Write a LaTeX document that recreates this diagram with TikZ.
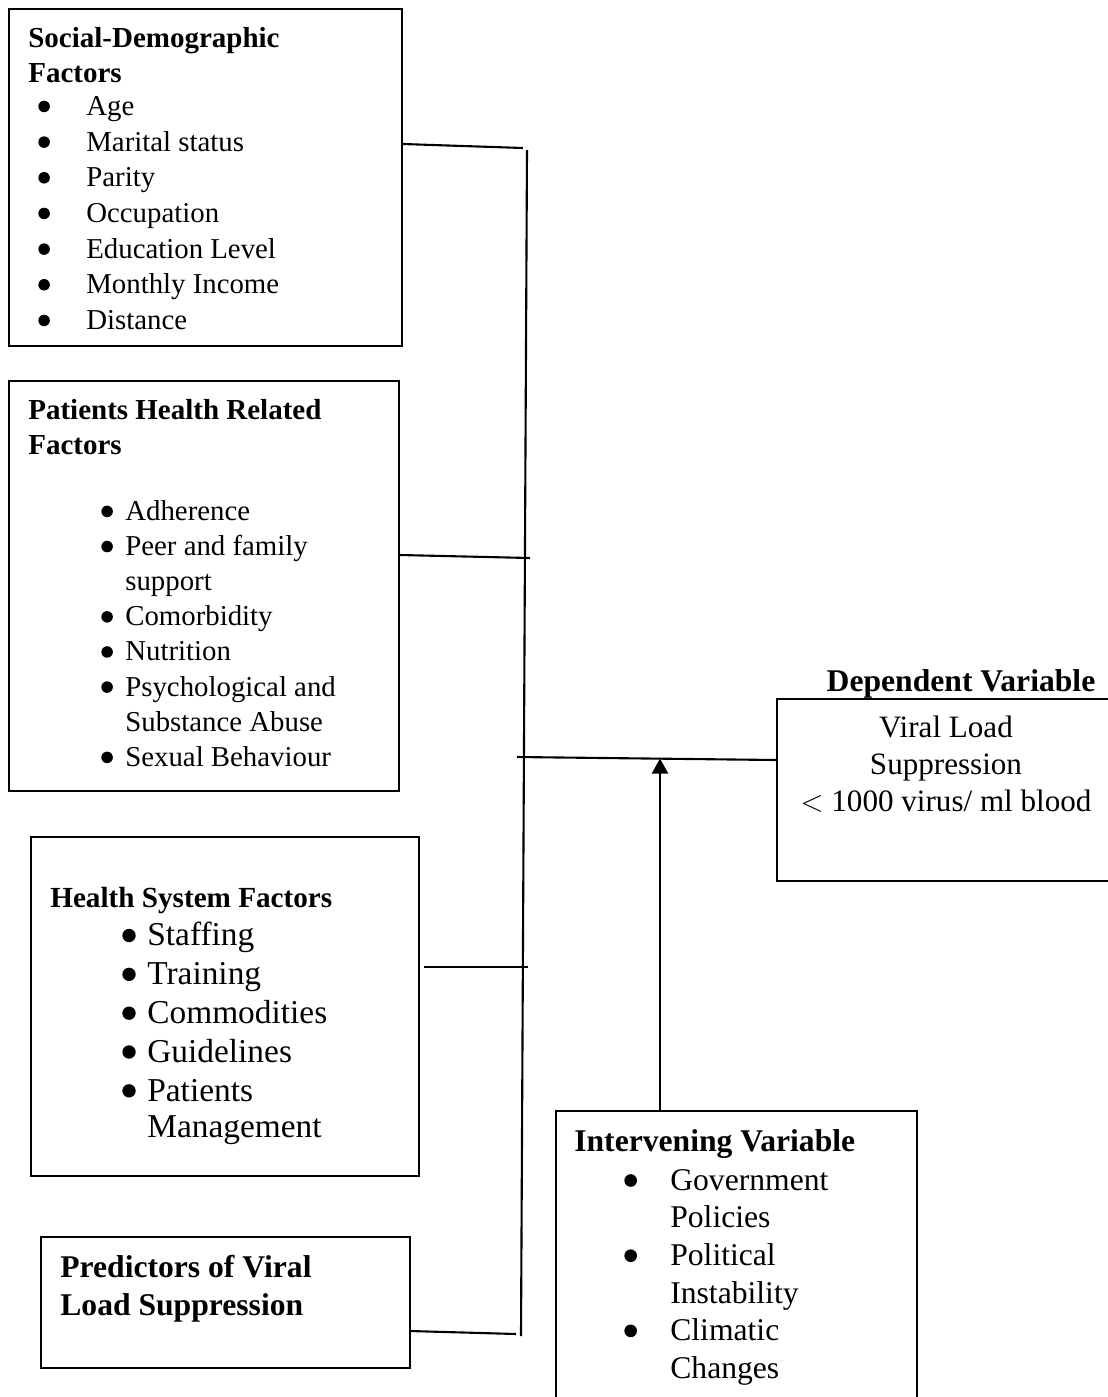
\documentclass[tikz,border=0pt]{standalone}
\usepackage{fontspec}
\setmainfont{Liberation Serif}
\usetikzlibrary{arrows.meta, positioning, calc}

\newcommand{\bdot}{\tikz[baseline=0pt, x=1cm, y=1cm]{\fill (0.2em,0.31em) circle (0.2em);}}
\newcommand{\bul}[1]{\makebox[#1][l]{\bdot}}

\begin{document}
\begin{tikzpicture}[x=0.02cm, y=-0.02cm,
    box/.style={draw, line width=1.2pt, anchor=north west, inner sep=0pt},
    txt/.style={anchor=north west, inner sep=0pt, align=left},
    link/.style={line width=1.2pt}]
    \useasboundingbox (0,0) rectangle (1107,1397);

    % Boxes
    \node[box, minimum width=7.86cm, minimum height=6.74cm] (sdf) at (8,8) {};
    \node[box, minimum width=7.8cm, minimum height=8.2cm] (phf) at (8,380) {};
    \node[box, minimum width=7.76cm, minimum height=6.78cm] (hsf) at (30,836) {};
    \node[box, minimum width=7.38cm, minimum height=2.62cm] (pvl) at (40,1236) {};
    \node[box, minimum width=7.22cm, minimum height=6cm] (ivv) at (555,1110) {};
    \node[box, minimum width=6.8cm, minimum height=3.64cm] (dep) at (776,698) {};

    % Social-demographic
    \node[txt, font=\fontsize{16.5}{20}\selectfont\bfseries] (sdft) at ($(sdf.north west)+(20,19)$) {Social-Demographic\\Factors};
    \node[txt, font=\fontsize{16.4}{20.3}\selectfont] (sdfl) at ($(sdf.north west)+(30,88)$)
        {\bul{0.96cm}Age\\ \bul{0.96cm}Marital status\\ \bul{0.96cm}Parity\\ \bul{0.96cm}Occupation\\
         \bul{0.96cm}Education Level\\ \bul{0.96cm}Monthly Income\\ \bul{0.96cm}Distance};

    % Patients health
    \node[txt, font=\fontsize{16.5}{20}\selectfont\bfseries] (phft) at ($(phf.north west)+(20,19)$) {Patients Health Related\\Factors};
    \node[txt, font=\fontsize{16.4}{20}\selectfont] (phfl) at ($(phf.north west)+(93,120)$)
        {\bul{0.48cm}Adherence\\ \bul{0.48cm}Peer and family\\ \hspace*{0.48cm}support\\ \bul{0.48cm}Comorbidity\\
         \bul{0.48cm}Nutrition\\ \bul{0.48cm}Psychological and\\ \hspace*{0.48cm}Substance Abuse\\ \bul{0.48cm}Sexual Behaviour};

    % Health system
    \node[txt, font=\fontsize{16.6}{20}\selectfont\bfseries] (hsft) at ($(hsf.north west)+(20,51)$) {Health System Factors};
    \node[txt, font=\fontsize{19}{22.1}\selectfont] (hsfl) at ($(hsf.north west)+(92,86)$)
        {\bul{0.5cm}Staffing\\ \bul{0.5cm}Training\\ \bul{0.5cm}Commodities\\ \bul{0.5cm}Guidelines\\
         \bul{0.5cm}Patients\\[-1.7pt] \hspace*{0.5cm}Management};

    % Predictors
    \node[txt, font=\fontsize{18}{21.5}\selectfont\bfseries] (pvlt) at ($(pvl.north west)+(20,19)$) {Predictors of Viral\\Load Suppression};

    % Intervening
    \node[txt, font=\fontsize{18}{21}\selectfont\bfseries] (ivvt) at ($(ivv.north west)+(19,19)$) {Intervening Variable};
    \node[txt, font=\fontsize{18}{21.4}\selectfont] (ivvl) at ($(ivv.north west)+(69,59)$)
        {\bul{0.92cm}Government\\ \hspace*{0.92cm}Policies\\ \bul{0.92cm}Political\\ \hspace*{0.92cm}Instability\\
         \bul{0.92cm}Climatic\\ \hspace*{0.92cm}Changes};

    % Dependent
    \node[inner sep=0pt, anchor=north, font=\fontsize{18}{21}\selectfont\bfseries] (dept) at ($(dep.north west)+(185,-29)$) {Dependent Variable};
    \node[inner sep=0pt, anchor=north, align=center, font=\fontsize{17.7}{21}\selectfont] (depl) at ($(dep.north west)+(170,18)$)
        {Viral Load\\Suppression\\$<$ 1000 virus/ ml blood};

    % Connectors
    \coordinate (sptop) at (527,150);
    \coordinate (spbot) at (521,1336);
    \coordinate (j1) at (523,148);
    \coordinate (j2) at (530,558);
    \coordinate (j3) at (528,967);
    \coordinate (j4) at (516,1334);
    \coordinate (hjoin) at (517,757);
    \coordinate (ahit) at (660,758.5);

    \draw[link] (sptop) -- (spbot);
    \draw[link] ($(sdf.north east)+(0,136)$) -- (j1);
    \draw[link] ($(phf.north east)+(0,175)$) -- (j2);
    \draw[link] ($(hsf.north east)+(4,131)$) -- (j3);
    \draw[link] ($(pvl.north east)+(-1,95)$) -- (j4);
    \draw[link] (hjoin) -- ($(dep.north west)+(0,62)$);
    \draw[link, -{Triangle[length=0.3cm, width=0.32cm]}] ($(ivv.north west)+(105,0)$) -- (ahit);
\end{tikzpicture}
\end{document}
